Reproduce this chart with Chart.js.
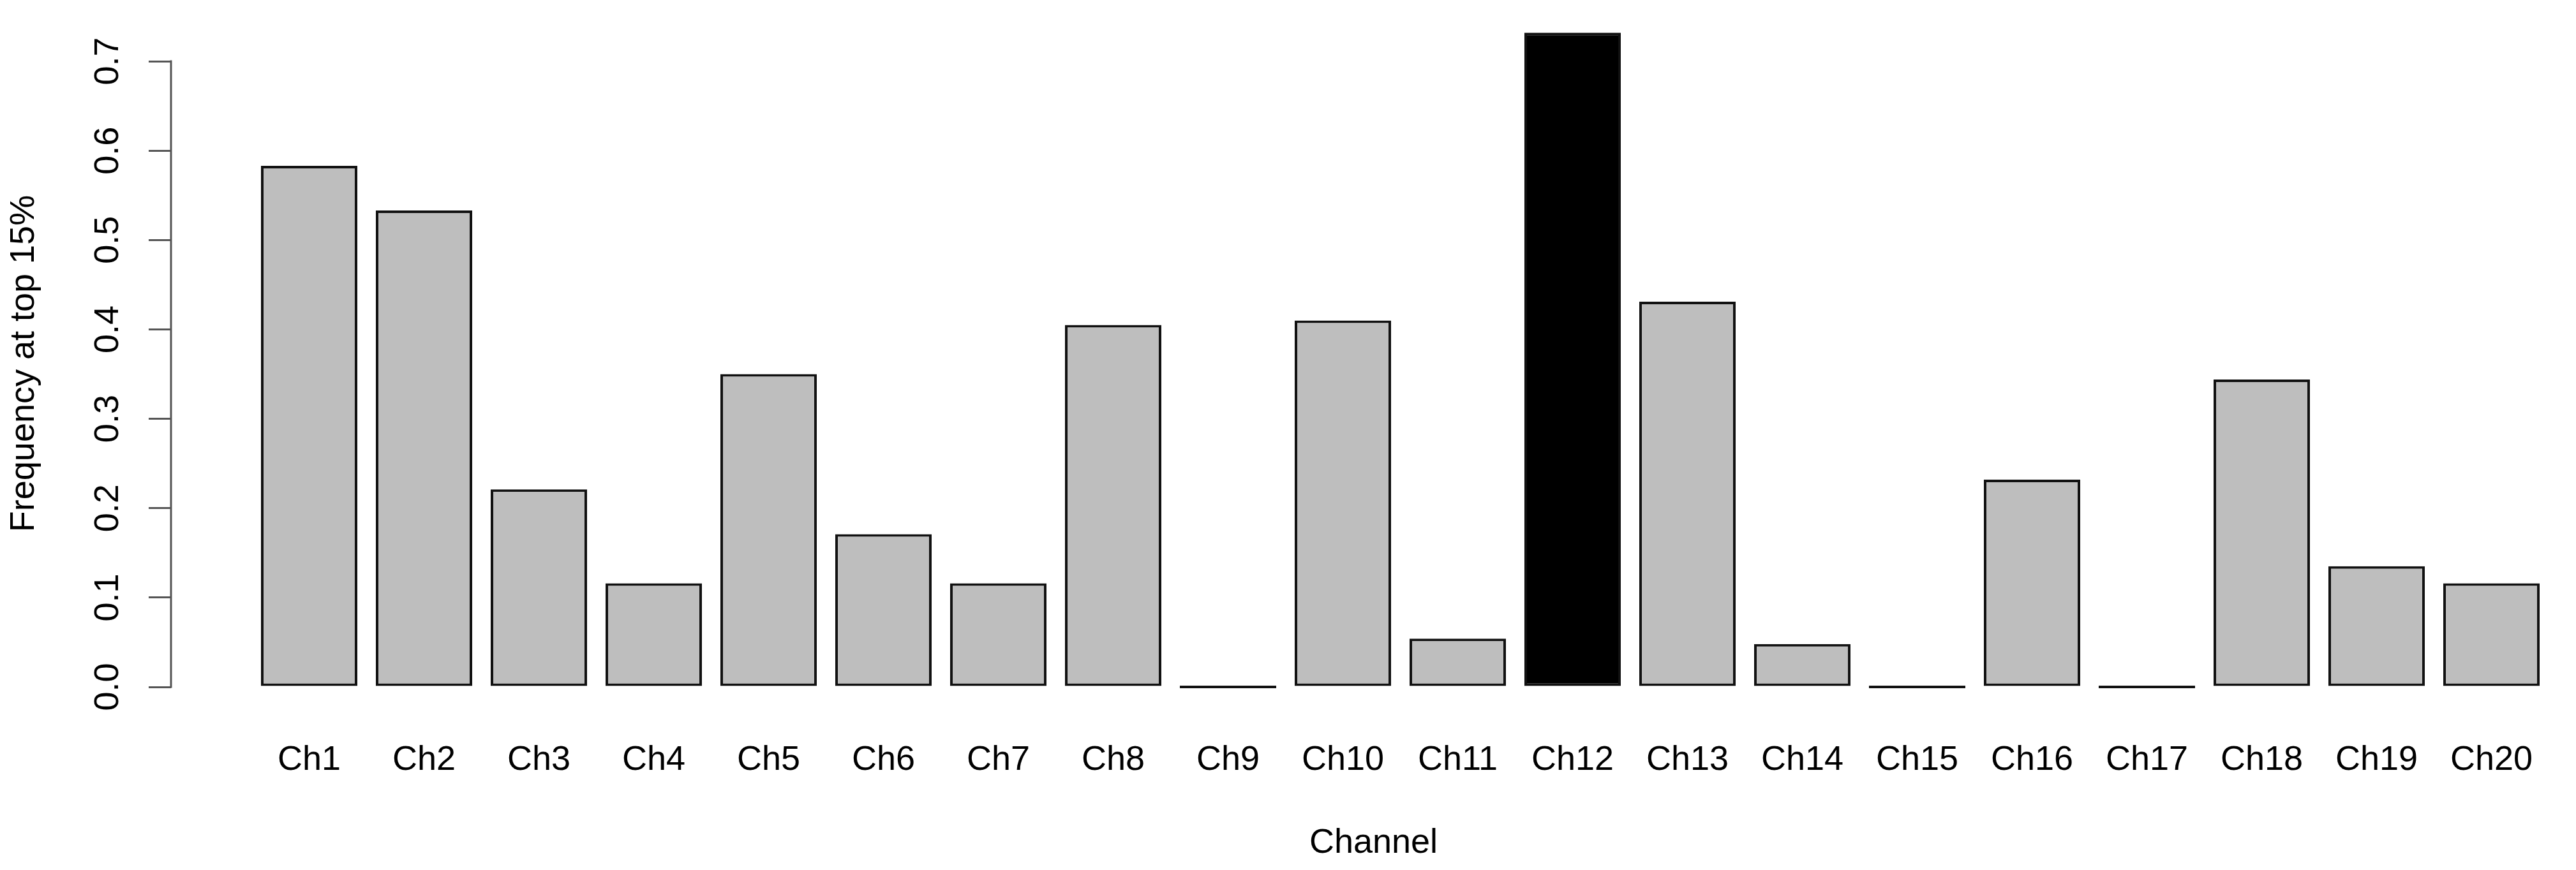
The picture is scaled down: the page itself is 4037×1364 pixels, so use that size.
<!DOCTYPE html>
<html lang="en">
<head>
  <meta charset="UTF-8" />
  <title>Frequency at top 15%</title>
  <script src="https://cdn.jsdelivr.net/npm/chart.js"></script>
  <style>
    body {
      margin: 0;
      background: #fff;
    }

    .wrap {
      width: 4037px;
      height: 1364px;
    }
  </style>
</head>
<body>
  <div class="wrap">
    <canvas id="freqChart"></canvas>
  </div>

  <script>
    // Data
    const channels = ['Ch1', 'Ch2', 'Ch3', 'Ch4', 'Ch5', 'Ch6', 'Ch7', 'Ch8', 'Ch9', 'Ch10',
      'Ch11', 'Ch12', 'Ch13', 'Ch14', 'Ch15', 'Ch16', 'Ch17', 'Ch18', 'Ch19', 'Ch20'];
    const frequency = [0.583, 0.533, 0.221, 0.116, 0.350, 0.171, 0.116, 0.405, 0, 0.410,
      0.054, 0.732, 0.431, 0.048, 0, 0.232, 0, 0.344, 0.135, 0.116];
    const highlighted = 'Ch12';
    const yTicks = [0, 0.1, 0.2, 0.3, 0.4, 0.5, 0.6, 0.7];

    const font = 'Liberation Sans, Arial, Helvetica, sans-serif';
    Chart.defaults.font.family = font;
    Chart.defaults.color = '#000';

    // R style axis line: only from the first to the last tick
    const axisLine = {
      id: 'axisLine',
      afterDraw(chart) {
        const y = chart.scales.y;
        const x = chart.chartArea.left;
        const ctx = chart.ctx;
        ctx.save();
        ctx.strokeStyle = '#555';
        ctx.lineWidth = 3;
        ctx.beginPath();
        ctx.moveTo(x, y.getPixelForValue(yTicks[0]) + 1.5);
        ctx.lineTo(x, y.getPixelForValue(yTicks[yTicks.length - 1]) - 1.5);
        ctx.stroke();
        ctx.restore();
      }
    };

    const ctx = document.getElementById('freqChart').getContext('2d');
    new Chart(ctx, {
      type: 'bar',
      data: {
        datasets: [{
          data: channels.map((c, i) => ({ x: i + 1, y: frequency[i] })),
          backgroundColor: channels.map(c => c === highlighted ? '#000' : '#bebebe'),
          borderColor: '#111',
          borderWidth: 4,
          borderSkipped: false,
          minBarLength: 4,
          categoryPercentage: 1,
          barPercentage: 0.839
        }]
      },
      plugins: [axisLine],
      options: {
        responsive: true,
        maintainAspectRatio: false,
        animation: false,
        layout: { padding: { top: 40, left: 0, right: 0, bottom: 0 } },
        plugins: {
          legend: { display: false },
          tooltip: { enabled: false }
        },
        scales: {
          x: {
            type: 'linear',
            offset: false,
            min: -0.2028,
            max: 20.736,
            grid: { display: false, drawTicks: false },
            border: { display: false },
            afterBuildTicks: (scale) => {
              scale.ticks = channels.map((c, i) => ({ value: i + 1 }));
            },
            afterFit: (scale) => {
              scale.height = 264;
              scale.paddingLeft = 0;
              scale.paddingRight = 0;
            },
            ticks: {
              autoSkip: false,
              maxRotation: 0,
              padding: 60,
              font: { size: 54 },
              callback: (v) => channels[v - 1]
            },
            title: {
              display: true,
              text: 'Channel',
              font: { size: 54 },
              padding: { top: 0, bottom: 9 }
            }
          },
          y: {
            min: -0.0164,
            max: 0.74,
            border: { display: false },
            grid: {
              drawOnChartArea: false,
              drawTicks: true,
              tickLength: 35,
              color: '#555',
              lineWidth: 3
            },
            afterBuildTicks: (scale) => {
              scale.ticks = yTicks.map(v => ({ value: v }));
            },
            afterFit: (scale) => {
              scale.width = 268;
              scale.paddingTop = 0;
              scale.paddingBottom = 0;
            },
            ticks: {
              minRotation: 90,
              maxRotation: 90,
              crossAlign: 'center',
              padding: 25,
              font: { size: 54 },
              callback: (v) => v.toFixed(1)
            },
            title: {
              display: true,
              text: 'Frequency at top 15%',
              font: { size: 54 },
              padding: { top: 6, bottom: 0 }
            }
          }
        }
      }
    });
  </script>
</body>
</html>
